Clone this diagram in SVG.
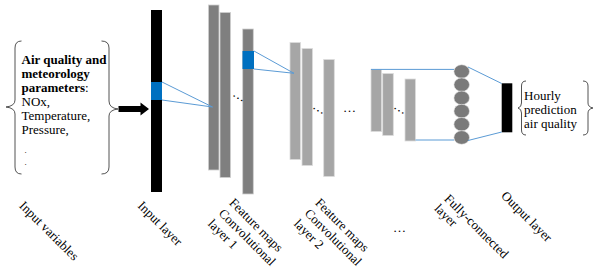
<svg xmlns="http://www.w3.org/2000/svg" width="600" height="269" viewBox="0 0 600 269">
<style>
text{font-family:"Liberation Serif","DejaVu Serif",serif;font-size:13px;fill:#000}
.b{font-weight:bold}
.sd{font-size:9px}
.g1{fill:#7f7f7f;stroke:#cfcfcf;stroke-width:0.8}
.g2{fill:#a6a6a6;stroke:#dcdcdc;stroke-width:0.8}
.blue{fill:#0070c0}
.cl{stroke:#5b9bd5;stroke-width:1;fill:none}
.br{fill:none;stroke:#404040;stroke-width:0.9}
.nd{fill:#7a7a7a;stroke:#e6e6e6;stroke-width:0.6}
</style>
<rect width="600" height="269" fill="#fff"/>

<g id="input-variables">
<path class="br" d="M21.5,41 Q15,41 15,48 L15,100 Q15,106 6,107 Q15,108 15,114 L15,167 Q15,174 21.5,174"/>
<path class="br" d="M101.5,41 Q109,41 109,48 L109,101 Q109,108 118,109 Q109,110 109,116 L109,167 Q109,174 101.5,174"/>
<text x="21.5" y="64" class="b">Air quality and</text>
<text x="21.5" y="78" class="b">meteorology</text>
<text x="21.5" y="92"><tspan class="b">parameters</tspan>:</text>
<text x="21.5" y="106">NOx,</text>
<text x="21.5" y="120">Temperature,</text>
<text x="21.5" y="134">Pressure,</text>
<text class="sd" x="24.5" y="153">.</text>
<text class="sd" x="24.5" y="165">.</text>
</g>

<g id="input-layer">
<rect x="151" y="10" width="11" height="182" fill="#000"/>
<rect class="blue" x="151" y="82" width="11" height="18"/>
</g>

<g id="conv-layer-1">
<rect class="g1" x="208.5" y="5" width="10.5" height="165"/>
<rect class="g1" x="220" y="12.5" width="10.5" height="165"/>
<rect class="g1" x="242.7" y="29" width="10.6" height="165"/>
<rect class="blue" x="242.5" y="51" width="11.5" height="18"/>
<text transform="translate(232,95.5) rotate(30)">…</text>
</g>

<g id="conv-layer-2">
<rect class="g2" x="290" y="42.5" width="10.5" height="117"/>
<rect class="g2" x="302" y="48.5" width="10.5" height="117"/>
<text transform="translate(312,108) rotate(30)">…</text>
<rect class="g2" x="323.7" y="59.5" width="10.6" height="117"/>
</g>

<g id="middle-dots">
<text x="343" y="112">…</text>
</g>

<g id="conv-layer-3">
<rect class="g2" x="371" y="69.5" width="10.6" height="62"/>
<rect class="g2" x="382.7" y="73.5" width="10.6" height="62"/>
<text transform="translate(393,108) rotate(30)">…</text>
<rect class="g2" x="405" y="79" width="10.5" height="62"/>
</g>

<g id="fully-connected">
<ellipse class="nd" cx="461.7" cy="71.5" rx="7.8" ry="6.8"/>
<ellipse class="nd" cx="461.7" cy="84.7" rx="7.8" ry="6.8"/>
<ellipse class="nd" cx="461.7" cy="97.9" rx="7.8" ry="6.8"/>
<ellipse class="nd" cx="461.7" cy="111.1" rx="7.8" ry="6.8"/>
<ellipse class="nd" cx="461.7" cy="124.3" rx="7.8" ry="6.8"/>
<ellipse class="nd" cx="461.7" cy="137.5" rx="7.8" ry="6.8"/>
</g>

<g id="output-layer">
<rect x="501.7" y="83.3" width="10.6" height="49" fill="#000"/>
</g>

<g id="output-text">
<path class="br" d="M526,81 Q521.5,81 521.5,86 L521.5,103 Q521.5,107 518,108 Q521.5,109 521.5,113 L521.5,130 Q521.5,135 526,135"/>
<path class="br" d="M583,81 Q588,81 588,86 L588,103 Q588,107 593,108 Q588,109 588,113 L588,130 Q588,135 583,135"/>
<text x="524" y="100">Hourly</text>
<text x="524" y="114">prediction</text>
<text x="524" y="128">air quality</text>
</g>

<g id="connectors">
<polygon points="118.5,106 140.5,106 140.5,102.5 149,109 140.5,115.5 140.5,112 118.5,112" fill="#000"/>
<path class="cl" d="M162,82 L212.5,107 L162,100"/>
<path class="cl" d="M254,51 L294,73.3 L254,69"/>
<path class="cl" d="M371,69.4 L454,69.4 M415.5,140 L454,140"/>
<path class="cl" d="M468,67 L501.7,83.5 M468,140.5 L501.7,132"/>
</g>

<g id="labels">
<text transform="translate(18.6,206.4) rotate(45)">Input variables</text>
<text transform="translate(137,206.4) rotate(45)">Input layer</text>
<text transform="translate(228.5,203.4) rotate(45)"><tspan x="0" y="0">Feature maps</tspan><tspan x="0" y="15">Convolutional</tspan><tspan x="0" y="30">layer 1</tspan></text>
<text transform="translate(314.5,203.4) rotate(45)"><tspan x="0" y="0">Feature maps</tspan><tspan x="0" y="15">Convolutional</tspan><tspan x="0" y="30">layer 2</tspan></text>
<text x="393" y="232">…</text>
<text transform="translate(443.6,199.4) rotate(45)"><tspan x="0" y="0">Fully-connected</tspan><tspan x="0" y="14">layer</tspan></text>
<text transform="translate(500.6,196.4) rotate(45)">Output layer</text>
</g>
</svg>
